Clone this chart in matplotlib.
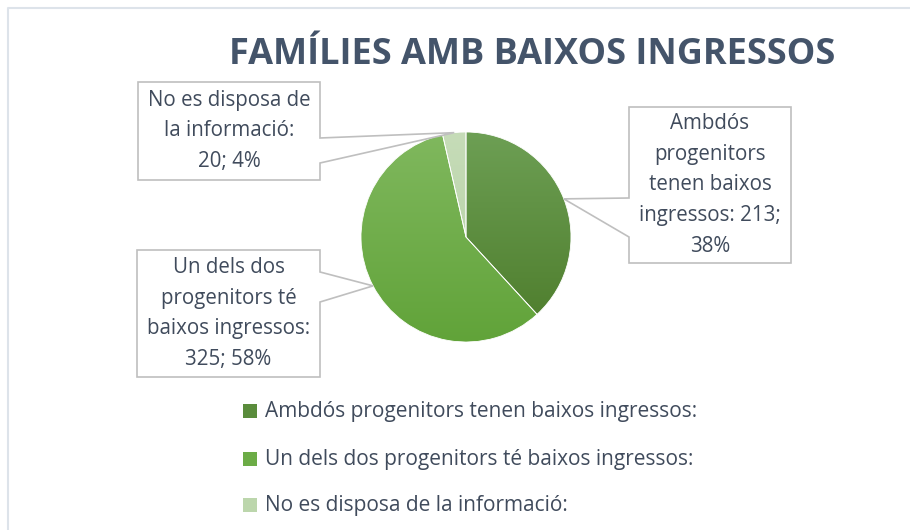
import numpy as np
import matplotlib
matplotlib.use("Agg")
import matplotlib.pyplot as plt
from matplotlib.patches import Rectangle, Polygon
from matplotlib.colors import LinearSegmentedColormap

# ------------------------------------------------------------
# Data
# ------------------------------------------------------------

title = "FAMÍLIES AMB BAIXOS INGRESSOS"
categories = [
    "Ambdós progenitors tenen baixos ingressos:",
    "Un dels dos progenitors té baixos ingressos:",
    "No es disposa de la informació:",
]
values = [213, 325, 20]
percents = [38, 58, 4]
callout_texts = [
    "Ambdós\nprogenitors\ntenen baixos\ningressos: 213;\n38%",
    "Un dels dos\nprogenitors té\nbaixos ingressos:\n325; 58%",
    "No es disposa de\nla informació:\n20; 4%",
]

# gradient colours per slice (top, bottom)
grad_colors = [("#6d9f54", "#4c7b2a"), ("#80b85e", "#61a339"), ("#c6dcb8", "#b3cfa2")]
legend_colors = ["#5a8c3c", "#6cac46", "#bcd6ac"]

TEXT = "#404b5c"
TITLE_C = "#44546a"
BOX_C = "#bfbfbf"
FONT = "Open Sans"

W, H = 910, 530
CX, CY, R = 466, H - 237, 105

# callout boxes in pixel layout: (x0, y0_top, x1, y1_bottom, side, pointer base y top, bottom)
boxes = [
    (629, 107, 791, 263, "left", 198, 237),
    (137, 250, 320, 377, "right", 272, 302),
    (138, 82, 320, 180, "right", 138, 163),
]

fig = plt.figure(figsize=(W / 100, H / 100), dpi=100)
ax = fig.add_axes([0, 0, 1, 1])
ax.set_xlim(0, W)
ax.set_ylim(0, H)
ax.set_aspect("equal")
ax.axis("off")

# chart frame (top and left edges visible)
ax.plot([8, 8, W], [0, H - 8, H - 8], color="#dde3ea", lw=1.5, zorder=1)

# ------------------------------------------------------------
# Pie with vertical gradient fill
# ------------------------------------------------------------

wedges, _ = ax.pie(values, startangle=90, counterclock=False,
                   center=(CX, CY), radius=R, frame=True,
                   wedgeprops=dict(edgecolor="white", linewidth=0.6))
ax.set_xlim(0, W)
ax.set_ylim(0, H)
ax.axis("off")

grad = np.linspace(1, 0, 256).reshape(-1, 1)
for w, (c_top, c_bot) in zip(wedges, grad_colors):
    w.set_facecolor("none")
    cmap = LinearSegmentedColormap.from_list("g", [c_bot, c_top])
    im = ax.imshow(grad, cmap=cmap, extent=(CX - R, CX + R, CY - R, CY + R),
                   aspect="auto", zorder=2, origin="upper")
    im.set_clip_path(w)
    w.set_zorder(3)

# ------------------------------------------------------------
# Callouts
# ------------------------------------------------------------

for w, txt, (x0, yt, x1, yb, side, py1, py2) in zip(wedges, callout_texts, boxes):
    mid = np.deg2rad((w.theta1 + w.theta2) / 2)
    tip = (CX + R * np.cos(mid), CY + R * np.sin(mid))
    y0, y1 = H - yb, H - yt
    p1, p2 = H - py1, H - py2
    if side == "left":
        pts = [(x0, y1), (x1, y1), (x1, y0), (x0, y0), (x0, p2), tip, (x0, p1)]
    else:
        pts = [(x0, y1), (x1, y1), (x1, p1), tip, (x1, p2), (x1, y0), (x0, y0)]
    ax.add_patch(Polygon(pts, closed=True, facecolor="white", edgecolor=BOX_C,
                         lw=1.2, zorder=4))
    ax.text((x0 + x1) / 2, (y0 + y1) / 2, txt, ha="center", va="center",
            fontsize=14.8, color=TEXT, family=FONT, linespacing=1.6, zorder=5)

# ------------------------------------------------------------
# Title and legend
# ------------------------------------------------------------

ax.text(532, H - 55, title, ha="center", va="center", fontsize=26,
        fontweight="bold", color=TITLE_C, family=FONT)

legend_y = [411, 459, 505]
for label, col, ly in zip(categories, legend_colors, legend_y):
    ax.add_patch(Rectangle((243, H - ly - 7), 14, 14, facecolor=col, edgecolor="none"))
    ax.text(265, H - ly, label, ha="left", va="center", fontsize=15,
            color=TEXT, family=FONT)

fig.savefig("out.png", dpi=100)
